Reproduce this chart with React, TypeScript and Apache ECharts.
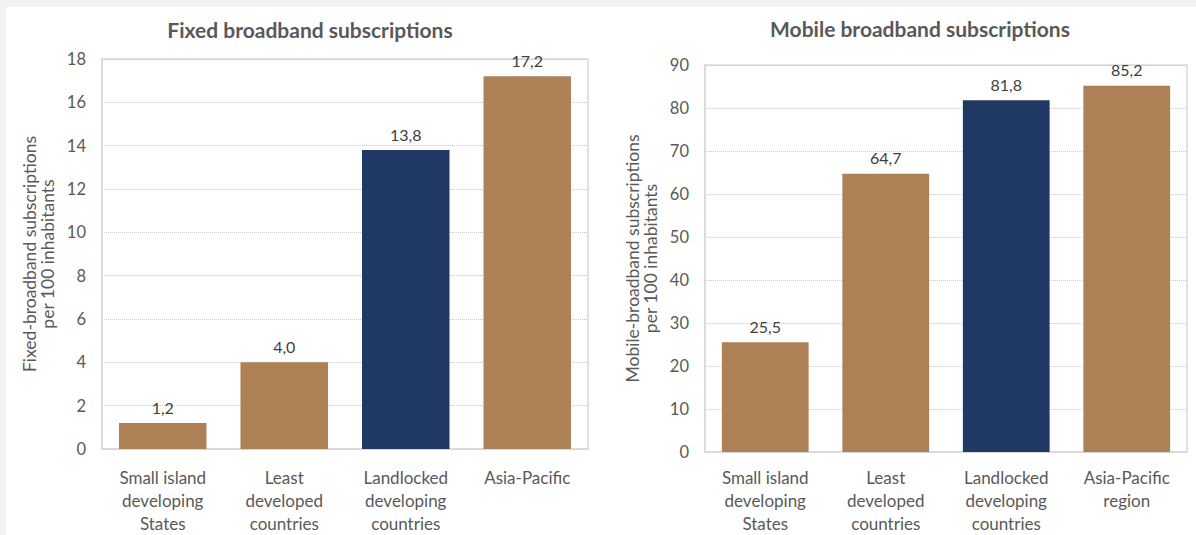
import React, { useEffect, useRef } from "react";
import * as echarts from "echarts";

const categoriesFixed = ["Small island\ndeveloping\nStates", "Least\ndeveloped\ncountries", "Landlocked\ndeveloping\ncountries", "Asia-Pacific"];
const categoriesMobile = ["Small island\ndeveloping\nStates", "Least\ndeveloped\ncountries", "Landlocked\ndeveloping\ncountries", "Asia-Pacific\nregion"];
const fixedValues = [1.2, 4.0, 13.8, 17.2];
const mobileValues = [25.5, 64.7, 81.8, 85.2];
const barColors = ["#AD8155", "#AD8155", "#203864", "#AD8155"];
const titles = ["Fixed broadband subscriptions", "Mobile broadband subscriptions"];
const yNames = ["Fixed-broadband subscriptions\nper 100 inhabitants", "Mobile-broadband subscriptions\nper 100 inhabitants"];

const FONT = "Lato";
const TXT = "#595959";

export default function App() {
  const ref = useRef<HTMLDivElement>(null);
  useEffect(() => {
    if (!ref.current) return;
    const chart = echarts.init(ref.current, null, { renderer: "svg" });
    const fmt = (p: any) => Number(p.value).toFixed(1).replace(".", ",");
    const mkData = (vals: number[]) => vals.map((v, i) => ({ value: v, itemStyle: { color: barColors[i] } }));
    const yAxisBase = (idx: number, max: number, interval: number, gap: number) => ({
      type: "value",
      gridIndex: idx,
      min: 0,
      max,
      interval,
      name: yNames[idx],
      nameLocation: "middle",
      nameGap: gap,
      nameTextStyle: { color: TXT, fontFamily: FONT, fontSize: 17.5, lineHeight: 18 },
      axisLine: { show: true, lineStyle: { color: "#d9d9d9", width: 1.5 } },
      axisTick: { show: false },
      axisLabel: { color: TXT, fontFamily: FONT, fontSize: 16.5, margin: 16 },
      splitLine: { show: true, lineStyle: { color: "#c8c8c8", type: "dotted", width: 1 } },
    });
    const xAxisBase = (idx: number, cats: string[], margin: number) => ({
      type: "category",
      gridIndex: idx,
      data: cats,
      axisLine: { show: true, lineStyle: { color: "#d9d9d9", width: 1.5 } },
      axisTick: { show: false },
      axisLabel: { color: TXT, fontFamily: FONT, fontSize: 17, lineHeight: 23, margin, interval: 0 },
    });
    chart.setOption({
      animation: false,
      backgroundColor: "#ffffff",
      title: [
        { text: titles[0], left: 299, top: 7, textAlign: "center", textStyle: { color: TXT, fontFamily: FONT, fontSize: 21, fontWeight: "bold" } },
        { text: titles[1], left: 909, top: 6, textAlign: "center", textStyle: { color: TXT, fontFamily: FONT, fontSize: 21, fontWeight: "bold" } },
      ],
      grid: [
        { left: 96, top: 52, right: 608, bottom: 78, show: true, borderColor: "#d9d9d9", borderWidth: 1.5, backgroundColor: "transparent" },
        { left: 699, top: 58, right: 9, bottom: 83, show: true, borderColor: "#d9d9d9", borderWidth: 1.5, backgroundColor: "transparent" },
      ],
      xAxis: [xAxisBase(0, categoriesFixed, 17), xAxisBase(1, categoriesMobile, 14)],
      yAxis: [yAxisBase(0, 18, 2, 46), yAxisBase(1, 90, 10, 46)],
      series: [
        {
          type: "bar",
          xAxisIndex: 0,
          yAxisIndex: 0,
          data: mkData(fixedValues),
          barCategoryGap: "28%",
          label: { show: true, position: "top", distance: 8, formatter: fmt, color: "#404040", fontFamily: FONT, fontSize: 16 },
        },
        {
          type: "bar",
          xAxisIndex: 1,
          yAxisIndex: 1,
          data: mkData(mobileValues),
          barCategoryGap: "28%",
          label: { show: true, position: "top", distance: 8, formatter: fmt, color: "#404040", fontFamily: FONT, fontSize: 16 },
        },
      ],
    });
    return () => chart.dispose();
  }, []);
  return (
    <div style={{ position: "absolute", left: 0, top: 0, width: 1196, height: 535, background: "#f2f2f2" }}>
      <div ref={ref} style={{ position: "absolute", left: 6, top: 7, width: 1190, height: 528, background: "#ffffff" }} />
    </div>
  );
}
